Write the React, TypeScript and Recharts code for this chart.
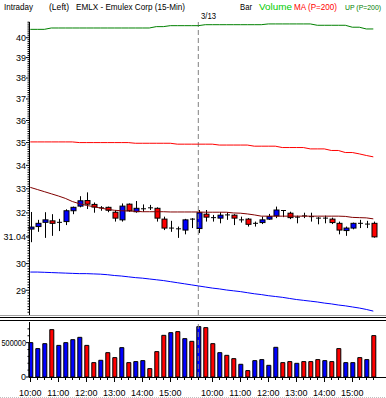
import React from "react";
import { ComposedChart, Bar, Line, XAxis, YAxis, ReferenceLine, Cell } from "recharts";

// 15-min bars: 3/12 10:00-15:45, 3/13 9:30-15:45
const times = [
  "10:00", "10:15", "10:30", "10:45", "11:00", "11:15", "11:30", "11:45",
  "12:00", "12:15", "12:30", "12:45", "13:00", "13:15", "13:30", "13:45",
  "14:00", "14:15", "14:30", "14:45", "15:00", "15:15", "15:30", "15:45",
  "9:30", "9:45", "10:00", "10:15", "10:30", "10:45", "11:00", "11:15",
  "11:30", "11:45", "12:00", "12:15", "12:30", "12:45", "13:00", "13:15",
  "13:30", "13:45", "14:00", "14:15", "14:30", "14:45", "15:00", "15:15",
  "15:30", "15:45",
];

const opens = [
  31.35, 31.45, 31.62, 31.68, 31.62, 31.65, 32.09, 32.28, 32.51, 32.35,
  32.21, 32.23, 32.03, 31.72, 32.36, 32.05, 32.17, 32.21, 32.19, 31.75,
  31.39, 31.36, 31.31, 31.75, 31.37, 31.95, 31.81, 31.79, 31.92, 31.91,
  31.72, 31.75, 31.58, 31.61, 31.75, 31.88, 32.1, 31.99, 31.83, 31.88,
  31.85, 31.79, 31.79, 31.75, 31.58, 31.29, 31.39, 31.58, 31.55, 31.58,
];
const highs = [
  32.04, 31.72, 32.03, 31.95, 31.76, 32.15, 32.26, 32.69, 32.85, 32.43,
  32.28, 32.26, 32.12, 32.39, 32.39, 32.49, 32.35, 32.33, 32.23, 31.85,
  31.68, 31.45, 31.76, 31.79, 32.12, 32.12, 31.92, 32.03, 32.03, 31.95,
  31.85, 31.79, 31.65, 31.85, 31.96, 32.26, 32.12, 32.05, 31.89, 32.01,
  32.01, 31.83, 31.89, 31.81, 31.65, 31.45, 31.61, 31.72, 31.68, 31.65,
];
const lows = [
  30.83, 31.24, 31.0, 31.08, 31.27, 31.51, 31.95, 32.23, 32.16, 32.01,
  32.09, 32.03, 31.65, 31.65, 32.05, 32.01, 32.05, 32.12, 31.65, 31.31,
  31.24, 31.0, 31.14, 31.39, 31.19, 31.65, 31.65, 31.58, 31.72, 31.51,
  31.61, 31.45, 31.45, 31.55, 31.72, 31.79, 31.83, 31.75, 31.58, 31.79,
  31.65, 31.54, 31.58, 31.55, 31.14, 31.08, 31.34, 31.39, 31.39, 31.01,
];
const closes = [
  31.43, 31.58, 31.72, 31.58, 31.62, 32.09, 32.23, 32.5, 32.36, 32.24,
  32.21, 32.11, 31.79, 32.28, 32.09, 32.19, 32.17, 32.21, 31.79, 31.39,
  31.39, 31.36, 31.72, 31.75, 32.01, 31.83, 31.81, 31.91, 31.92, 31.79,
  31.72, 31.54, 31.58, 31.72, 31.85, 32.12, 32.1, 31.81, 31.83, 31.88,
  31.85, 31.79, 31.79, 31.61, 31.31, 31.39, 31.58, 31.58, 31.55, 31.04,
];

const volumes = [
  500000, 413000, 485000, 689000, 460000, 500000, 543000, 577000, 460000, 209000,
  243000, 354000, 282000, 427000, 209000, 224000, 238000, 122000, 369000, 606000,
  645000, 660000, 558000, 519000, 733000, 718000, 485000, 354000, 315000, 267000,
  185000, 93000, 238000, 253000, 170000, 432000, 209000, 224000, 199000, 224000,
  224000, 253000, 238000, 224000, 413000, 209000, 209000, 282000, 253000, 602000,
];
const volumeColors = [
  "b", "b", "b", "r", "b", "b", "b", "b", "r", "r",
  "b", "r", "r", "b", "r", "b", "b", "r", "r", "r",
  "b", "r", "b", "r", "b", "r", "r", "b", "r", "r",
  "b", "r", "b", "b", "b", "b", "r", "r", "b", "r",
  "r", "r", "b", "r", "r", "b", "b", "r", "b", "r",
];

const upBand = [
  40.43, 40.43, 40.43, 40.5, 40.5, 40.5, 40.5, 40.5, 40.5, 40.5,
  40.5, 40.5, 40.5, 40.5, 40.5, 40.5, 40.5, 40.5, 40.57, 40.57,
  40.62, 40.62, 40.62, 40.62, 40.62, 40.67, 40.67, 40.67, 40.67, 40.67,
  40.67, 40.67, 40.67, 40.67, 40.71, 40.71, 40.71, 40.71, 40.71, 40.71,
  40.71, 40.64, 40.64, 40.64, 40.64, 40.64, 40.54, 40.54, 40.45, 40.45,
];
const midBand = [
  35.03, 35.03, 35.03, 35.03, 35.03, 35.03, 35.03, 35.0, 35.0, 35.0,
  35.0, 35.0, 35.0, 35.0, 35.0, 34.97, 34.97, 34.97, 34.97, 34.97,
  34.97, 34.93, 34.93, 34.93, 34.93, 34.93, 34.93, 34.89, 34.89, 34.89,
  34.89, 34.89, 34.84, 34.84, 34.84, 34.84, 34.78, 34.78, 34.78, 34.78,
  34.72, 34.72, 34.72, 34.65, 34.65, 34.56, 34.56, 34.5, 34.43, 34.37,
];
const maLine = [
  33.06, 32.97, 32.88, 32.79, 32.7, 32.6, 32.47, 32.38, 32.31, 32.26,
  32.2, 32.15, 32.11, 32.09, 32.08, 32.07, 32.05, 32.05, 32.05, 32.05,
  32.04, 32.04, 32.04, 32.04, 32.04, 32.03, 32.03, 32.03, 32.03, 32.0,
  31.99, 31.96, 31.92, 31.87, 31.87, 31.87, 31.87, 31.87, 31.87, 31.87,
  31.87, 31.87, 31.87, 31.87, 31.87, 31.86, 31.82, 31.81, 31.8, 31.76,
];
const dnBand = [
  29.68, 29.68, 29.67, 29.66, 29.65, 29.64, 29.63, 29.62, 29.62, 29.61,
  29.6, 29.58, 29.55, 29.53, 29.5, 29.47, 29.45, 29.42, 29.39, 29.36,
  29.32, 29.28, 29.24, 29.2, 29.16, 29.12, 29.08, 29.05, 29.01, 28.98,
  28.95, 28.91, 28.87, 28.84, 28.8, 28.77, 28.74, 28.7, 28.66, 28.63,
  28.6, 28.57, 28.53, 28.5, 28.46, 28.43, 28.39, 28.35, 28.3, 28.24,
];

const priceTicks = [29, 30, 31.04, 32, 33, 34, 35, 36, 37, 38, 39, 40];
const volumeTicks = [0, 500000];
const dividerIndex = 24;

const minorPrice: number[] = [];
for (let k = 282; k <= 408; k++) {
  if (!priceTicks.includes(k / 10)) minorPrice.push(k / 10);
}
const priceAxisTicks = [...minorPrice, ...priceTicks].sort((a, b) => a - b);
const volumeAxisTicks = [0, 100000, 200000, 300000, 400000, 500000, 600000, 700000];

const data = times.map((t, i) => ({
  i,
  t,
  range: [lows[i], highs[i]],
  open: opens[i],
  high: highs[i],
  low: lows[i],
  close: closes[i],
  vol: volumes[i],
  up: upBand[i],
  mid: midBand[i],
  ma: maLine[i],
  dn: dnBand[i],
}));

const FONT = "'Liberation Sans', Arial, sans-serif";
const BLUE = "#0000ff";
const RED = "#ff0000";

const Candle = (props: any) => {
  const { x, y, width, height, payload } = props;
  const { open, close, high, low } = payload;
  const lh = Math.log(high);
  const ll = Math.log(low);
  const py = (p: number) => y + (height * (lh - Math.log(p))) / (lh - ll);
  const cx = Math.round(x + width / 2) + 0.5;
  const yo = py(open);
  const yc = py(close);
  const top = Math.min(yo, yc);
  const bot = Math.max(yo, yc);
  const color = close > open ? BLUE : close < open ? RED : null;
  return (
    <g>
      <line x1={cx} x2={cx} y1={y} y2={y + height} stroke="#000" />
      {color ? (
        <rect x={cx - 2.5} y={top} width={5} height={Math.max(bot - top, 2)} fill={color} stroke="#000" />
      ) : (
        <line x1={cx - 2.5} x2={cx + 2.5} y1={yo} y2={yo} stroke="#000" />
      )}
    </g>
  );
};

const priceTick = (props: any) => {
  const { y, payload } = props;
  const v = payload.value;
  const major = priceTicks.includes(v);
  return (
    <g>
      <line x1={major ? 26 : 27.5} x2={29.5} y1={y} y2={y} stroke="#000" />
      {major && (
        <text x={26} y={y} dy={3.3} textAnchor="end" fontSize={9} fontFamily={FONT} fill="#000">
          {v}
        </text>
      )}
    </g>
  );
};

const volumeTick = (props: any) => {
  const { y, payload } = props;
  const v = payload.value;
  const major = volumeTicks.includes(v);
  const label = String(v);
  return (
    <g>
      <line x1={major ? 26 : 27.5} x2={29.5} y1={y} y2={y} stroke="#000" />
      {major && (
        <text
          x={26}
          y={y}
          dy={3.3}
          textAnchor="end"
          fontSize={9}
          fontFamily={FONT}
          fill="#000"
          textLength={label.length > 4 ? 24.5 : undefined}
          lengthAdjust="spacingAndGlyphs"
        >
          {label}
        </text>
      )}
    </g>
  );
};

const timeTick = (props: any) => {
  const { x, payload } = props;
  const label = times[payload.value];
  const hour = label.endsWith(":00");
  const cx = Math.round(x) + 0.5;
  return (
    <g>
      <line x1={cx} x2={cx} y1={61} y2={hour ? 66 : 64} stroke="#000" />
      {hour && (
        <text x={x} y={79.5} textAnchor="middle" fontSize={9} fontFamily={FONT} fill="#000">
          {label}
        </text>
      )}
    </g>
  );
};

const header = [
  { text: "Intraday", x: 4, len: 29, size: 9, color: "#000" },
  { text: "(Left)", x: 49, len: 20, size: 9, color: "#000" },
  { text: "EMLX - Emulex Corp (15-Min)", x: 76, len: 109, size: 9, color: "#000" },
  { text: "Bar", x: 240, len: 12, size: 9, color: "#000" },
  { text: "Volume", x: 259, len: 33, size: 9, color: "#00cc00" },
  { text: "MA (P=200)", x: 294, len: 43, size: 9, color: "#ff0000" },
  { text: "UP (P=200)", x: 345, len: 36, size: 8, color: "#008000" },
];

export default function App() {
  return (
    <div
      style={{
        position: "absolute",
        left: 0,
        top: 0,
        width: 386,
        height: 398,
        background: "#fff",
        overflow: "hidden",
        fontFamily: FONT,
      }}
    >
      <div style={{ position: "absolute", left: 0, top: 0 }}>
        <ComposedChart width={386} height={316} data={data} margin={{ top: 22, right: 9.2, bottom: 1, left: 0 }}>
          <XAxis dataKey="i" hide />
          <YAxis
            scale="log"
            domain={[28.1, 40.81]}
            allowDataOverflow
            ticks={priceAxisTicks}
            interval={0}
            width={26.8}
            axisLine={false}
            tickLine={false}
            tick={priceTick}
          />
          <ReferenceLine x={dividerIndex} stroke="#808080" strokeDasharray="5 3" />
          <Line dataKey="up" stroke="#008000" dot={false} strokeWidth={1} isAnimationActive={false} />
          <Line dataKey="mid" stroke={RED} dot={false} strokeWidth={1} isAnimationActive={false} />
          <Line dataKey="ma" stroke="#800000" dot={false} strokeWidth={1} isAnimationActive={false} />
          <Line dataKey="dn" stroke={BLUE} dot={false} strokeWidth={1} isAnimationActive={false} />
          <Bar dataKey="range" shape={Candle} isAnimationActive={false} />
        </ComposedChart>
      </div>

      <div style={{ position: "absolute", left: 0, top: 316 }}>
        <ComposedChart width={386} height={82} data={data} margin={{ top: 6, right: 9.2, bottom: 0, left: 0 }}>
          <XAxis dataKey="i" height={21} interval={0} axisLine={false} tickLine={false} tick={timeTick} />
          <YAxis
            domain={[0, 800000]}
            allowDataOverflow
            ticks={volumeAxisTicks}
            interval={0}
            width={26.8}
            axisLine={false}
            tickLine={false}
            tick={volumeTick}
          />
          <ReferenceLine x={dividerIndex} stroke="#808080" strokeDasharray="5 3" />
          <Bar dataKey="vol" barSize={4} stroke="#000" strokeWidth={1} isAnimationActive={false}>
            {data.map((d, i) => (
              <Cell key={`v-${i}`} fill={volumeColors[i] === "b" ? BLUE : RED} />
            ))}
          </Bar>
        </ComposedChart>
      </div>

      <svg
        width={386}
        height={398}
        style={{ position: "absolute", left: 0, top: 0, pointerEvents: "none" }}
      >
        {header.map((h) => (
          <text
            key={h.text}
            x={h.x}
            y={10}
            fontSize={h.size}
            fontFamily={FONT}
            fill={h.color}
            textLength={h.len}
            lengthAdjust="spacingAndGlyphs"
          >
            {h.text}
          </text>
        ))}
        <text x={201} y={18.5} fontSize={9} fontFamily={FONT} fill="#000" textLength={15} lengthAdjust="spacingAndGlyphs">
          3/13
        </text>
        <line x1={29.5} x2={29.5} y1={22} y2={315} stroke="#000" />
        <line x1={29.5} x2={29.5} y1={322} y2={377} stroke="#000" />
        <line x1={29} x2={386} y1={377.5} y2={377.5} stroke="#000" />
        <line x1={0} x2={386} y1={315.5} y2={315.5} stroke="#a0a0a0" />
        <line x1={0} x2={386} y1={317.5} y2={317.5} stroke="#000" />
        <line x1={0} x2={386} y1={320.5} y2={320.5} stroke="#000" />
        <line x1={0} x2={386} y1={397.5} y2={397.5} stroke="#c0c0c0" strokeDasharray="1 1" />
      </svg>
    </div>
  );
}
